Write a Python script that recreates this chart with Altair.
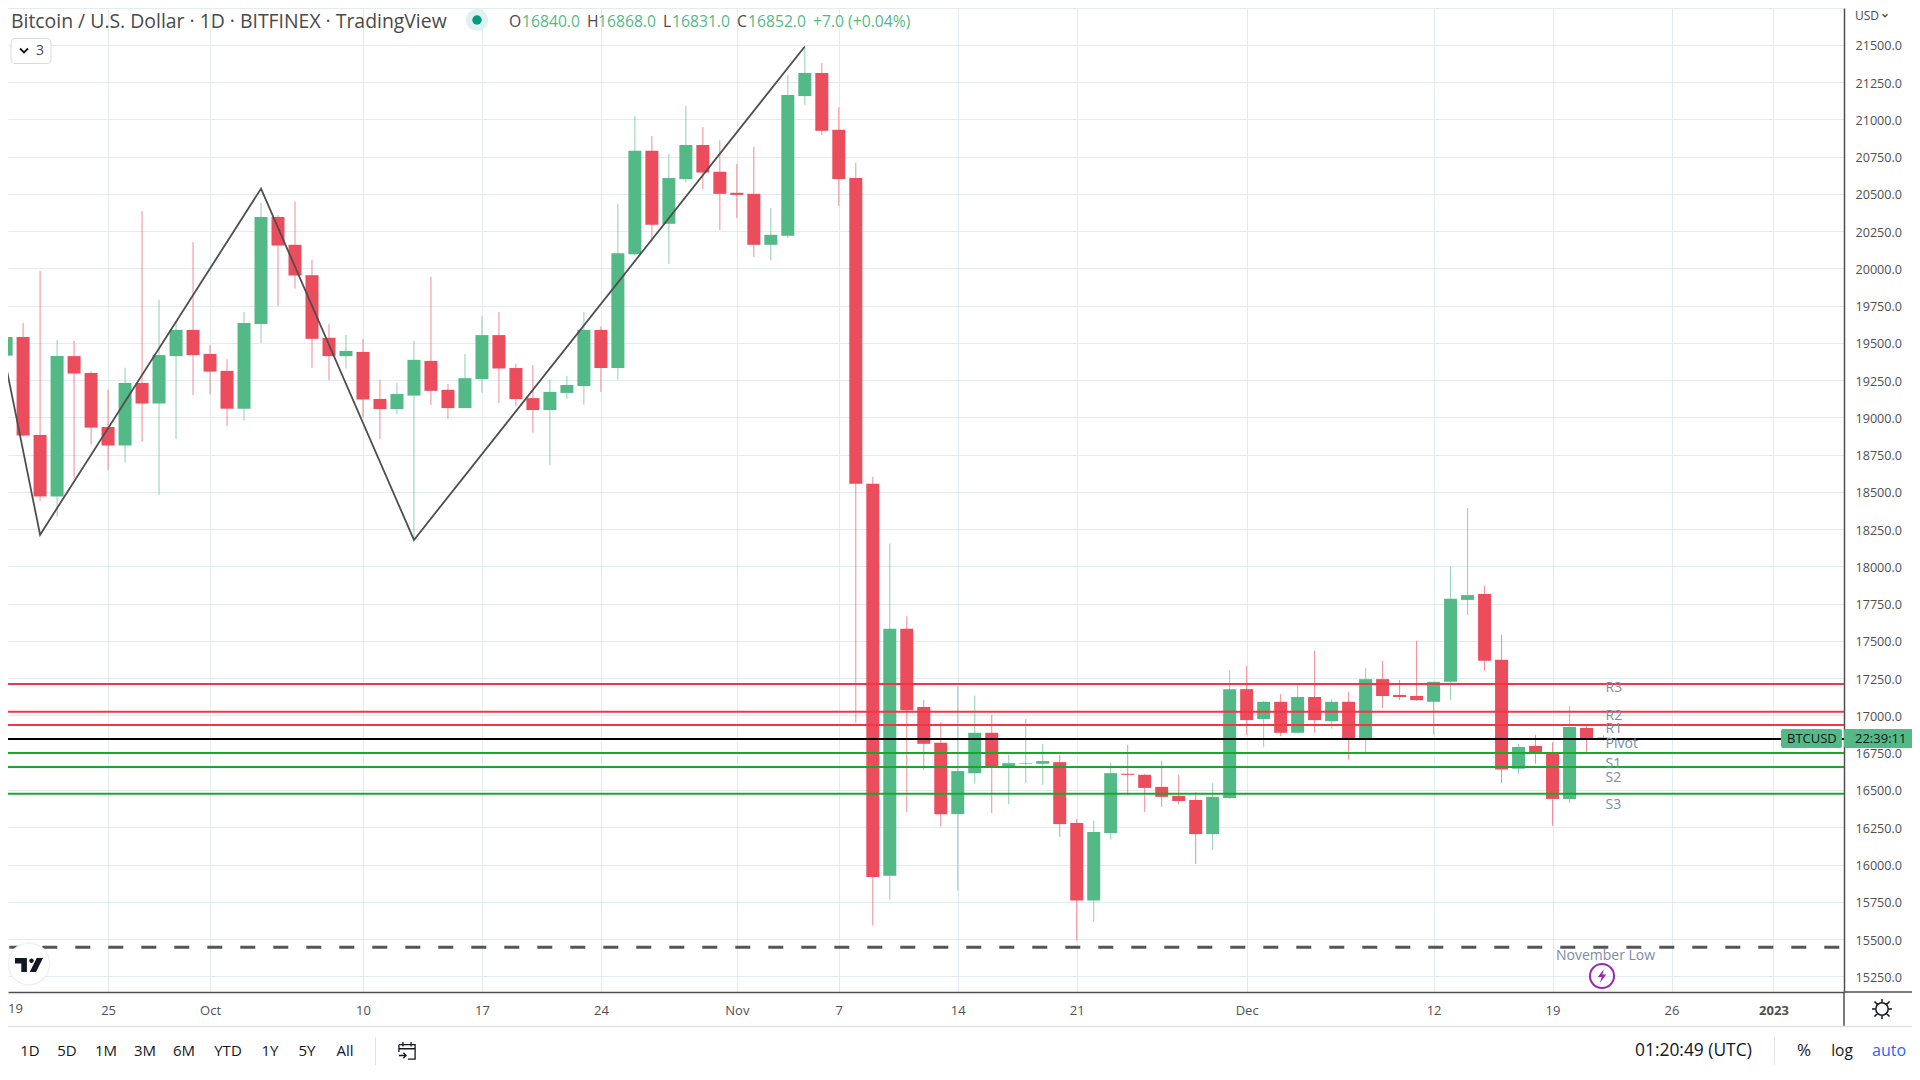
import altair as alt
import pandas as pd

# ---------- candle data (USD) ----------
start_day = "2022-09-19"
opens = [19415,19540,18883,18470,19412,19299,18936,18812,19232,19094,19412,19588,19426,19313,19059,19627,20346,20159,19955,19535,
19412,19440,19124,19057,19147,19380,19186,19063,19258,19553,19332,19130,19050,19165,19211,19588,19332,20096,20790,20300,
20600,20829,20649,20508,20501,20159,20219,21157,21312,20931,20607,18555,15925,17582,17057,16817,16338,16613,16884,16660,
16676,16676,16687,16278,15758,16211,16609,16602,16521,16461,16433,16204,16447,17177,16976,17092,16884,17124,16962,17092,
16845,17244,17138,17131,17092,17226,17776,17815,17374,16643,16796,16750,16440,16916,16840]
highs = [19694,19634,19983,19521,19514,19311,19186,19334,20385,19791,19641,20177,19486,19392,19708,20440,20358,20450,20057,19627,
19553,19526,19255,19232,19514,19944,19225,19426,19680,19708,19359,19352,19255,19278,19708,19611,20434,21023,20889,20769,
21090,20949,20861,20702,20815,20406,21298,21478,21379,21083,20709,18601,18155,17665,17103,16958,17200,17133,17004,16736,
16976,16810,16738,16306,16295,16680,16803,16606,16694,16602,16486,16546,17300,17332,17096,17145,17205,17434,17110,17159,
17318,17367,17237,17501,17226,17998,18393,17871,17540,16810,16870,16821,17064,16935,16868]
lows = [18255,18870,18440,18335,18590,18821,18647,18698,18837,18481,18855,19151,19156,18943,18978,19500,19748,19865,19334,19253,
19329,19001,18855,19022,18167,19084,18992,19063,19165,19098,19075,18897,18678,19126,19084,19172,19255,20087,20184,20029,
20577,20531,20258,20339,20078,20053,20205,21097,20896,20420,16953,15590,15763,16352,16637,16253,15825,16542,16345,16405,
16546,16535,16186,15490,15617,16167,16463,16352,16387,16405,16003,16098,16440,16868,16789,16861,16879,16884,16912,16704,
16752,17050,17103,17099,16872,17103,17674,17300,16546,16609,16676,16260,16412,16752,16831]
closes = [19540,18879,18470,19412,19295,18932,18812,19232,19094,19419,19588,19419,19308,19059,19634,20346,20154,19953,19528,19412,
19447,19121,19057,19158,19387,19179,19063,19264,19553,19329,19124,19050,19172,19218,19588,19332,20103,20790,20293,20607,
20829,20644,20501,20494,20159,20226,21164,21312,20924,20600,18555,15916,17582,17036,16810,16338,16627,16884,16653,16680,
16680,16694,16271,15758,16218,16613,16602,16514,16454,16426,16204,16454,17177,16969,17092,16884,17124,16969,17092,16845,
17244,17131,17124,17103,17226,17783,17808,17367,16637,16789,16750,16440,16923,16845,16852]

level_names = ["R3", "R2", "R1", "Pivot", "S1", "S2", "S3"]
level_values = [17212, 17025, 16937, 16842, 16748, 16655, 16475]
november_low = 15444
zigzag_dates = ["2022-09-18", "2022-09-21", "2022-10-04", "2022-10-13", "2022-11-05"]
zigzag_prices = [19909, 18213, 20536, 18178, 21490]
price_ticks = [15250 + 250 * i for i in range(26)]
date_ticks = ["2022-09-25","2022-10-01","2022-10-10","2022-10-17","2022-10-24","2022-11-01","2022-11-07",
              "2022-11-14","2022-11-21","2022-12-01","2022-12-12","2022-12-19","2022-12-26","2023-01-01"]
range_buttons = ["1D", "5D", "1M", "3M", "6M", "YTD", "1Y", "5Y", "All"]

# ---------- tables ----------
dates = pd.date_range(start_day, periods=len(opens), freq="D").strftime("%Y-%m-%d")
df = pd.DataFrame({"date": dates, "o": opens, "h": highs, "l": lows, "c": closes})
df["up"] = df.c >= df.o
ms = lambda s: int(pd.Timestamp(s, tz="UTC").timestamp() * 1000)

GREEN, RED = "#53b987", "#eb4d5c"
GRID = "#e2ebf2"
FONT = "Open Sans"
AXC = "#4f4f4f"

x_scale = alt.Scale(type="utc", domain=[ms("2022-09-19 02:41"), ms("2023-01-05 03:36")], nice=False, padding=0)
y_scale = alt.Scale(domain=[15144.3, 21748.3], nice=False, zero=False, padding=0)

x_axis = alt.Axis(
    values=[ms(d) for d in date_ticks], title=None, grid=True, gridColor=GRID, gridWidth=1, ticks=False,
    domainColor=AXC, domainWidth=1.5, labelFont=FONT, labelFontSize=13, labelColor=AXC, labelPadding=12,
    labelOverlap=False, labelFlush=False, labelBound=False,
    labelExpr="utcdate(datum.value)==1 ? (utcmonth(datum.value)==0 ? utcFormat(datum.value,'%Y') : utcFormat(datum.value,'%b')) : utcFormat(datum.value,'%-d')",
    labelFontWeight={"condition": {"test": "utcmonth(datum.value)==0", "value": "bold"}, "value": "normal"},
)
y_axis = alt.Axis(
    values=price_ticks, format=".1f", orient="right", title=None, grid=True, gridColor=GRID, gridWidth=1, ticks=False,
    domainColor=AXC, domainWidth=1.5, labelFont=FONT, labelFontSize=12.6, labelColor=AXC, labelPadding=11, labelOffset=1,
    labelOverlap=False, labelFlush=False, labelBound=False,
)

X = alt.X("date:T", scale=x_scale, axis=x_axis)
def Y(field):
    return alt.Y(field, scale=y_scale, axis=y_axis)

layers = []

for is_up, col in [(True, GREEN), (False, RED)]:
    part = df[df.up == is_up]
    base = alt.Chart(part)
    layers.append(base.mark_rule(color=col, strokeWidth=1, opacity=0.65, clip=True).encode(
        x=X, y=Y("h:Q"), y2="l:Q"))
    layers.append(base.mark_bar(color=col, size=13, clip=True).encode(
        x=X, y=Y("o:Q"), y2="c:Q"))

# zig-zag
zz = pd.DataFrame({"date": zigzag_dates, "p": zigzag_prices})
layers.append(alt.Chart(zz).mark_line(color="#4f4f4f", strokeWidth=1.8, clip=True).encode(x=X, y=Y("p:Q")))

# pivot levels
lv = pd.DataFrame({"name": level_names, "p": level_values})
for names, col, dy in [(["R3", "R2", "R1"], "#f23645", 4), (["Pivot"], "#000000", 5), (["S1", "S2", "S3"], "#1aa82c", 11)]:
    part = lv[lv.name.isin(names)].assign(date="2022-12-22")
    layers.append(alt.Chart(part).mark_rule(color=col, strokeWidth=2).encode(y=Y("p:Q")))
    layers.append(alt.Chart(part).mark_text(align="left", baseline="middle", dx=2, dy=dy, font=FONT, fontSize=14,
                                             color="#7b8ba3").encode(x=X, y=Y("p:Q"), text="name:N"))

# November low
layers.append(alt.Chart(pd.DataFrame({"p": [november_low]})).mark_rule(
    color="#555555", strokeWidth=3, strokeDash=[15, 18], strokeDashOffset=28.3).encode(y=Y("p:Q")))
layers.append(alt.Chart(pd.DataFrame({"p": [november_low], "date": ["2022-12-22"], "t": ["November Low"]})).mark_text(
    align="center", baseline="middle", dx=2, dy=9, font=FONT, fontSize=14, color="#7b8ba3").encode(
    x=X, y=Y("p:Q"), text="t:N"))

# ---------- chrome helpers (reference pixel coordinates) ----------
ONE = alt.Data(values=[{"a": 1}])

def txt(s, x, y, color="#4a4a4a", size=15, align="left", weight="normal"):
    return alt.Chart(ONE).mark_text(text=s, align=align, baseline="middle", font=FONT, fontSize=size, color=color,
                                    fontWeight=weight).encode(x=alt.value(x - 8), y=alt.value(y - 8))

def box(x, x2, y, y2, fill, stroke=None, r=0):
    kw = dict(fill=fill, cornerRadius=r, stroke=stroke if stroke else fill, strokeWidth=1 if stroke else 0)
    return alt.Chart(ONE).mark_rect(**kw).encode(
        x=alt.value(x - 8), x2=alt.value(x2 - 8), y=alt.value(y - 8), y2=alt.value(y2 - 8))

def line(x, x2, y, y2, color, w=1):
    return alt.Chart(ONE).mark_rule(color=color, strokeWidth=w).encode(
        x=alt.value(x - 8), x2=alt.value(x2 - 8), y=alt.value(y - 8), y2=alt.value(y2 - 8))

def sym(shape, x, y, size, fill=None, stroke=None, w=1.5):
    kw = dict(shape=shape, size=size, strokeWidth=w, opacity=1)
    kw.update(filled=True, color=fill, strokeOpacity=0) if fill else kw.update(filled=False, color=stroke)
    return alt.Chart(ONE).mark_point(**kw).encode(x=alt.value(x - 8), y=alt.value(y - 8))

# price badge
layers += [box(1781, 1842, 729, 748, GREEN, r=2), box(1844, 1916, 729, 748, GREEN, r=2),
           txt("BTCUSD", 1787, 739, "#131722", 13), txt("22:39:11", 1855, 739, "#131722", 13)]

# header
layers += [line(8, 1844, 8.5, 8.5, GRID)]
layers += [txt("Bitcoin / U.S. Dollar · 1D · BITFINEX · TradingView", 11, 22, "#4a4a4a", 19.4)]
layers += [sym("circle", 477, 20, 484, fill="#dff2ef"), sym("circle", 477, 20, 90, fill="#089981")]
for lab, lx, val, vx in [("O", 509, "16840.0", 522), ("H", 587, "16868.0", 598), ("L", 663, "16831.0", 672), ("C", 737, "16852.0", 748)]:
    layers += [txt(lab, lx, 22, "#4a4a4a", 15.7), txt(val, vx, 22, GREEN, 15.7)]
layers += [txt("+7.0 (+0.04%)", 813, 22, GREEN, 15.7)]
layers += [box(11, 51, 38.5, 63.5, "#ffffff", stroke="#d6d9e0", r=4), txt("3", 36, 51, "#4a4a4a", 14),
           sym("M-1 -0.5 L0 0.5 L1 -0.5", 24, 50.5, 64, stroke="#131722", w=1.8)]
layers += [txt("USD", 1855, 16, "#4a4a4a", 12), sym("M-1 -0.5 L0 0.5 L1 -0.5", 1885, 15.5, 25, stroke="#4a4a4a", w=1.3)]

# TV logo
layers += [sym("circle", 29, 964, 1700, fill="#ffffff"), sym("circle", 29, 964, 1720, stroke="#eef0f3", w=1.5),
           sym("M-1 -0.5 H-0.15 V0.5 H-0.55 V-0.1 H-1 Z M0.02 -0.3 A0.16 0.16 0 1 0 0.34 -0.3 A0.16 0.16 0 1 0 0.02 -0.3 Z M0.55 -0.5 H1 L0.5 0.5 H0.05 Z",
               29, 965, 784, fill="#131722")]

# lightning marker
layers += [sym("circle", 1602, 976, 580, stroke="#9c27b0", w=2),
           sym("M0.3 -1 L-0.6 0.15 H-0.05 L-0.3 1 L0.6 -0.2 H0.05 Z", 1602, 976, 196, fill="#9c27b0")]

# frame
layers += [line(1844, 1844, 992, 1026, AXC, 1.5), line(1844, 1912, 992, 992, AXC, 1.5),
           line(8, 1912, 1026.5, 1026.5, "#e0e3eb", 1.5), txt("19", 8, 1009, AXC, 13)]

# gear
layers += [sym("M-0.62 0 A0.62 0.62 0 1 0 0.62 0 A0.62 0.62 0 1 0 -0.62 0 Z M0 -1 V-0.62 M0 1 V0.62 M-1 0 H-0.62 M1 0 H0.62 M-0.75 -0.75 L-0.44 -0.44 M0.75 -0.75 L0.44 -0.44 M-0.75 0.75 L-0.44 0.44 M0.75 0.75 L0.44 0.44",
               1882, 1009, 400, stroke="#131722", w=1.5)]

# toolbar
for lab, cx in zip(range_buttons, [30, 67, 106, 145, 184, 228, 270, 307, 345]):
    layers.append(txt(lab, cx, 1051, "#131722", 15, align="center"))
layers += [line(375.5, 375.5, 1037, 1065, "#e0e3eb"), line(1774.5, 1774.5, 1037, 1065, "#e0e3eb"),
           sym("M-0.9 -0.7 H0.9 V0.9 H0.1 M-0.9 0.1 V-0.7 M-0.9 -0.25 H0.9 M-0.45 -1 V-0.5 M0.45 -1 V-0.5 M-0.9 0.5 H-0.1 M-0.4 0.2 L-0.1 0.5 L-0.4 0.8",
               407, 1051, 324, stroke="#131722", w=1.3),
           txt("01:20:49 (UTC)", 1635, 1051, "#131722", 17.4),
           txt("%", 1804, 1051, "#131722", 17, align="center"),
           txt("log", 1842, 1051, "#131722", 15.5, align="center"),
           txt("auto", 1889, 1051, "#2962ff", 16, align="center")]

chart = alt.layer(*layers).properties(
    width=1836, height=984,
    autosize=alt.AutoSizeParams(type="none"),
    padding={"left": 0, "top": 0, "right": 68, "bottom": 76},
    background="white",
).configure_view(stroke=None)

chart.save("out.html", embed_options={"renderer": "svg", "actions": False})
